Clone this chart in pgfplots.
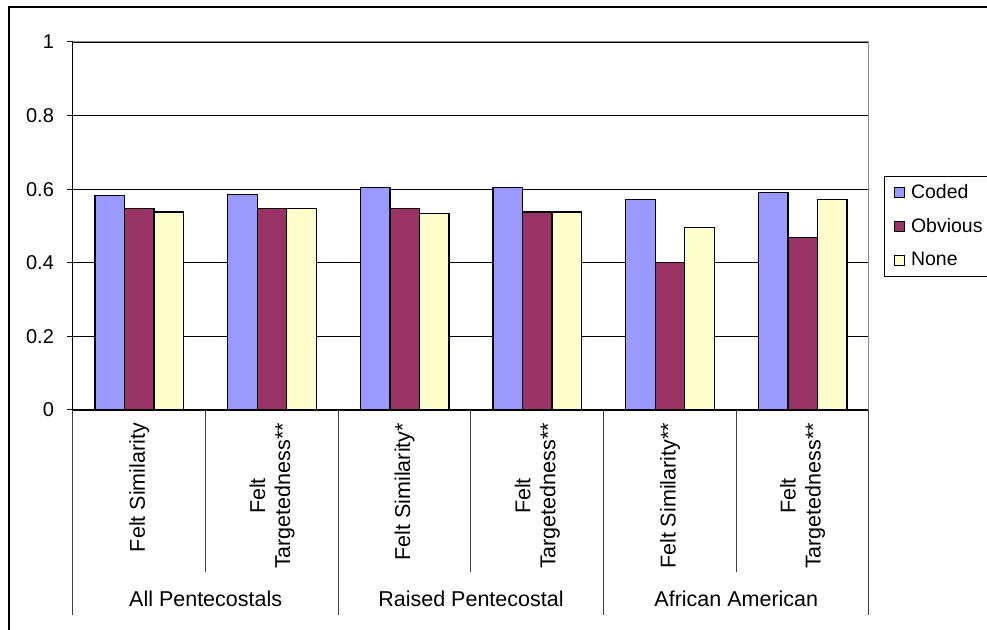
\documentclass[border=0pt]{standalone}
\usepackage{fontspec}
\setmainfont{Liberation Sans}
\usepackage{pgfplots}
\pgfplotsset{compat=1.18}
\definecolor{coded}{HTML}{9999FF}
\definecolor{obvious}{HTML}{993366}
\definecolor{nonecol}{HTML}{FFFFCC}
\newcommand{\catfont}{\fontsize{10.75}{12.5}\selectfont}

\begin{document}
\begin{tikzpicture}
\useasboundingbox (0pt,0pt) rectangle (493.5pt,-315pt);
% chart frame (left and top edges)
\draw[line width=1pt] (4.5pt,-315pt) -- (4.5pt,-3.5pt) -- (493.5pt,-3.5pt);
\begin{axis}[
  at={(36.5pt,-205pt)}, anchor=south west,
  scale only axis, width=398pt, height=184pt,
  xmin=-0.5, xmax=5.5, ymin=0, ymax=1,
  ybar, bar width=14.75pt,
  axis x line*=bottom, axis y line*=left,
  axis line style={black, line width=0.5pt},
  ytick={0,0.2,0.4,0.6,0.8,1},
  ymajorgrids, grid style={black, line width=0.4pt},
  tick align=outside, major tick length=3pt,
  ytick style={black, line width=0.5pt},
  yticklabel style={xshift=-3pt},
  xtick={0,1,2,3,4,5}, xtick style={draw=none},
  xticklabels={Felt Similarity, Felt\\Targetedness**, Felt Similarity*, Felt\\Targetedness**, Felt Similarity**, Felt\\Targetedness**},
  xticklabel style={rotate=90, anchor=east, align=center, font=\catfont},
  /pgf/number format/assume math mode=true,
  clip=false,
  legend style={at={(1.0189,0.637)}, anchor=north west, draw=black, line width=0.5pt,
    row sep=4.5pt, inner xsep=0pt, inner ysep=2pt,
    nodes={inner xsep=3pt}, font=\fontsize{9.75}{11.7}\selectfont},
  legend cell align=left,
  legend image code/.code={\path (-4.5pt,0pt); \draw[#1, line width=0.5pt] (0pt,-2.6pt) rectangle (5.2pt,2.6pt);},
]
\addplot[fill=coded, draw=black, line width=0.6pt, bar shift=-14.75pt]
  coordinates {(0,0.582) (1,0.586) (2,0.604) (3,0.604) (4,0.573) (5,0.590)};
\addplot[fill=obvious, draw=black, line width=0.6pt, bar shift=0pt]
  coordinates {(0,0.547) (1,0.547) (2,0.547) (3,0.538) (4,0.400) (5,0.469)};
\addplot[fill=nonecol, draw=black, line width=0.6pt, bar shift=14.75pt]
  coordinates {(0,0.538) (1,0.547) (2,0.534) (3,0.538) (4,0.495) (5,0.573)};
\legend{Coded, Obvious, None}
% plot-area border on top and right
\draw[black!45, line width=0.5pt] (rel axis cs:0,1) -- (rel axis cs:1,1) -- (rel axis cs:1,0);
% category separators below the axis
\draw[black!75, line width=0.5pt] (axis cs:-0.5,0) -- ++(0pt,-102.5pt);
\draw[black!75, line width=0.5pt] (axis cs:1.5,0) -- ++(0pt,-102.5pt);
\draw[black!75, line width=0.5pt] (axis cs:3.5,0) -- ++(0pt,-102.5pt);
\draw[black!75, line width=0.5pt] (axis cs:5.5,0) -- ++(0pt,-102.5pt);
\draw[black!75, line width=0.5pt] (axis cs:0.5,0) -- ++(0pt,-81pt);
\draw[black!75, line width=0.5pt] (axis cs:2.5,0) -- ++(0pt,-81pt);
\draw[black!75, line width=0.5pt] (axis cs:4.5,0) -- ++(0pt,-81pt);
% group names
\node[font=\catfont] at (axis cs:0.5,0) [yshift=-94.5pt] {All Pentecostals};
\node[font=\catfont] at (axis cs:2.5,0) [yshift=-94.5pt] {Raised Pentecostal};
\node[font=\catfont] at (axis cs:4.5,0) [yshift=-94.5pt] {African American};
\end{axis}
\end{tikzpicture}
\end{document}
